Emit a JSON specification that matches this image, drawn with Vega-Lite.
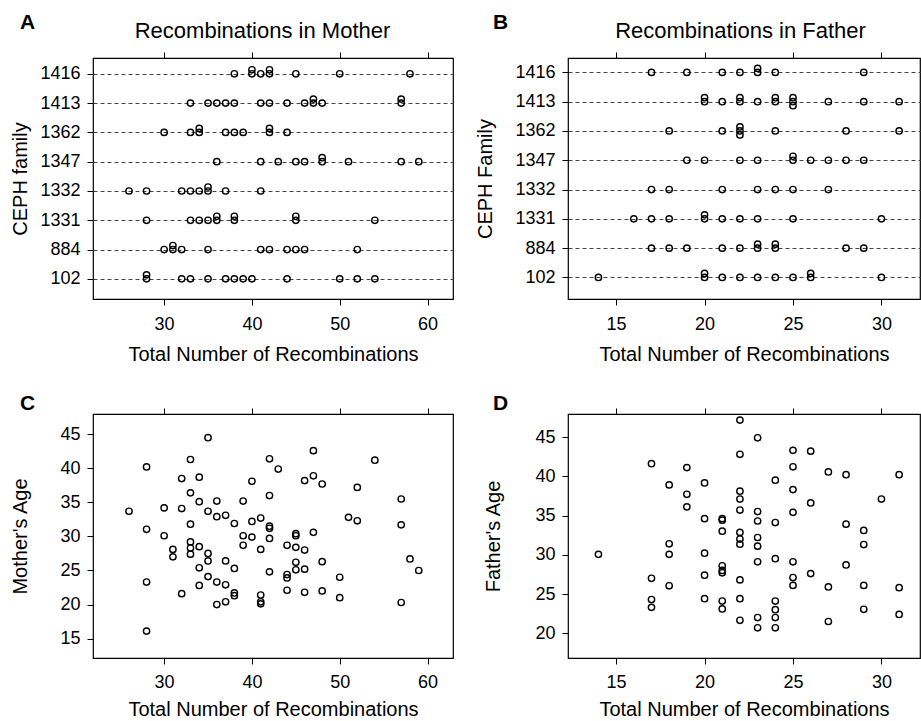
{
  "$schema": "https://vega.github.io/schema/vega-lite/v6.json",
  "background": "white",
  "padding": {"left": 9, "top": 11, "right": 0, "bottom": 0},
  "bounds": "flush",
  "columns": 2,
  "spacing": {"row": 115, "column": 115},
  "config": {
    "font": "Liberation Sans",
    "view": {"stroke": "black", "strokeWidth": 1.2},
    "axis": {"domain": false, "tickColor": "black", "tickSize": 6, "tickWidth": 1, "labelColor": "black", "titleColor": "black", "labelFontSize": 18, "titleFontSize": 20, "titleFontWeight": "normal", "labelFont": "Liberation Sans", "titleFont": "Liberation Sans", "grid": false},
    "title": {"font": "Liberation Sans", "fontSize": 21, "fontWeight": "bold", "color": "black"}
  },
  "datasets": {
    "mother": [
      {"family": "1416", "n": 38}, {"family": "1416", "n": 40}, {"family": "1416", "n": 40}, {"family": "1416", "n": 41}, {"family": "1416", "n": 42}, {"family": "1416", "n": 42}, {"family": "1416", "n": 45}, {"family": "1416", "n": 50}, {"family": "1416", "n": 58},
      {"family": "1413", "n": 33}, {"family": "1413", "n": 35}, {"family": "1413", "n": 36}, {"family": "1413", "n": 37}, {"family": "1413", "n": 38}, {"family": "1413", "n": 41}, {"family": "1413", "n": 42}, {"family": "1413", "n": 44}, {"family": "1413", "n": 46}, {"family": "1413", "n": 47}, {"family": "1413", "n": 47}, {"family": "1413", "n": 48}, {"family": "1413", "n": 57}, {"family": "1413", "n": 57},
      {"family": "1362", "n": 30}, {"family": "1362", "n": 33}, {"family": "1362", "n": 34}, {"family": "1362", "n": 34}, {"family": "1362", "n": 37}, {"family": "1362", "n": 38}, {"family": "1362", "n": 39}, {"family": "1362", "n": 42}, {"family": "1362", "n": 42}, {"family": "1362", "n": 44},
      {"family": "1347", "n": 36}, {"family": "1347", "n": 41}, {"family": "1347", "n": 43}, {"family": "1347", "n": 45}, {"family": "1347", "n": 46}, {"family": "1347", "n": 48}, {"family": "1347", "n": 48}, {"family": "1347", "n": 51}, {"family": "1347", "n": 57}, {"family": "1347", "n": 59},
      {"family": "1332", "n": 26}, {"family": "1332", "n": 28}, {"family": "1332", "n": 32}, {"family": "1332", "n": 33}, {"family": "1332", "n": 34}, {"family": "1332", "n": 35}, {"family": "1332", "n": 35}, {"family": "1332", "n": 37}, {"family": "1332", "n": 41},
      {"family": "1331", "n": 28}, {"family": "1331", "n": 33}, {"family": "1331", "n": 34}, {"family": "1331", "n": 35}, {"family": "1331", "n": 36}, {"family": "1331", "n": 36}, {"family": "1331", "n": 38}, {"family": "1331", "n": 38}, {"family": "1331", "n": 45}, {"family": "1331", "n": 45}, {"family": "1331", "n": 54},
      {"family": "884", "n": 30}, {"family": "884", "n": 31}, {"family": "884", "n": 31}, {"family": "884", "n": 32}, {"family": "884", "n": 35}, {"family": "884", "n": 41}, {"family": "884", "n": 42}, {"family": "884", "n": 44}, {"family": "884", "n": 45}, {"family": "884", "n": 46}, {"family": "884", "n": 52},
      {"family": "102", "n": 28}, {"family": "102", "n": 28}, {"family": "102", "n": 32}, {"family": "102", "n": 33}, {"family": "102", "n": 35}, {"family": "102", "n": 37}, {"family": "102", "n": 38}, {"family": "102", "n": 39}, {"family": "102", "n": 40}, {"family": "102", "n": 44}, {"family": "102", "n": 50}, {"family": "102", "n": 52}, {"family": "102", "n": 54}
    ],
    "father": [
      {"family": "1416", "n": 17}, {"family": "1416", "n": 19}, {"family": "1416", "n": 21}, {"family": "1416", "n": 22}, {"family": "1416", "n": 23}, {"family": "1416", "n": 23}, {"family": "1416", "n": 24}, {"family": "1416", "n": 29},
      {"family": "1413", "n": 20}, {"family": "1413", "n": 20}, {"family": "1413", "n": 21}, {"family": "1413", "n": 22}, {"family": "1413", "n": 22}, {"family": "1413", "n": 23}, {"family": "1413", "n": 24}, {"family": "1413", "n": 24}, {"family": "1413", "n": 25}, {"family": "1413", "n": 25}, {"family": "1413", "n": 25}, {"family": "1413", "n": 27}, {"family": "1413", "n": 29}, {"family": "1413", "n": 31},
      {"family": "1362", "n": 18}, {"family": "1362", "n": 21}, {"family": "1362", "n": 22}, {"family": "1362", "n": 22}, {"family": "1362", "n": 22}, {"family": "1362", "n": 24}, {"family": "1362", "n": 28}, {"family": "1362", "n": 31},
      {"family": "1347", "n": 19}, {"family": "1347", "n": 20}, {"family": "1347", "n": 22}, {"family": "1347", "n": 23}, {"family": "1347", "n": 25}, {"family": "1347", "n": 25}, {"family": "1347", "n": 26}, {"family": "1347", "n": 27}, {"family": "1347", "n": 28}, {"family": "1347", "n": 29},
      {"family": "1332", "n": 17}, {"family": "1332", "n": 18}, {"family": "1332", "n": 21}, {"family": "1332", "n": 23}, {"family": "1332", "n": 24}, {"family": "1332", "n": 25}, {"family": "1332", "n": 27},
      {"family": "1331", "n": 16}, {"family": "1331", "n": 17}, {"family": "1331", "n": 18}, {"family": "1331", "n": 20}, {"family": "1331", "n": 20}, {"family": "1331", "n": 21}, {"family": "1331", "n": 22}, {"family": "1331", "n": 23}, {"family": "1331", "n": 25}, {"family": "1331", "n": 30},
      {"family": "884", "n": 17}, {"family": "884", "n": 18}, {"family": "884", "n": 19}, {"family": "884", "n": 21}, {"family": "884", "n": 22}, {"family": "884", "n": 23}, {"family": "884", "n": 23}, {"family": "884", "n": 24}, {"family": "884", "n": 24}, {"family": "884", "n": 28}, {"family": "884", "n": 29},
      {"family": "102", "n": 14}, {"family": "102", "n": 20}, {"family": "102", "n": 20}, {"family": "102", "n": 21}, {"family": "102", "n": 22}, {"family": "102", "n": 23}, {"family": "102", "n": 24}, {"family": "102", "n": 25}, {"family": "102", "n": 26}, {"family": "102", "n": 26}, {"family": "102", "n": 30}
    ],
    "motherAge": [
      {"n": 35, "age": 44.5}, {"n": 47, "age": 42.6}, {"n": 28, "age": 40.2}, {"n": 33, "age": 41.3}, {"n": 42, "age": 41.4}, {"n": 54, "age": 41.2}, {"n": 43, "age": 39.9}, {"n": 32, "age": 38.5}, {"n": 34, "age": 38.7}, {"n": 40, "age": 38.1}, {"n": 46, "age": 38.2}, {"n": 47, "age": 38.9}, {"n": 48, "age": 37.7}, {"n": 52, "age": 37.2}, {"n": 33, "age": 36.4}, {"n": 42, "age": 36.0}, {"n": 57, "age": 35.5}, {"n": 34, "age": 35.1}, {"n": 36, "age": 35.2}, {"n": 39, "age": 35.2}, {"n": 26, "age": 33.7}, {"n": 30, "age": 34.2}, {"n": 32, "age": 34.1}, {"n": 35, "age": 33.7}, {"n": 36, "age": 32.9}, {"n": 37, "age": 33.1}, {"n": 38, "age": 31.9}, {"n": 40, "age": 32.2}, {"n": 41, "age": 32.7}, {"n": 42, "age": 31.5}, {"n": 42, "age": 31.2}, {"n": 51, "age": 32.8}, {"n": 52, "age": 32.3}, {"n": 57, "age": 31.7}, {"n": 28, "age": 31.05}, {"n": 33, "age": 31.8}, {"n": 30, "age": 30.1}, {"n": 39, "age": 30.1}, {"n": 40, "age": 29.9}, {"n": 42, "age": 29.7}, {"n": 45, "age": 30.4}, {"n": 45, "age": 30.1}, {"n": 47, "age": 30.6},
      {"n": 31, "age": 28.1}, {"n": 31, "age": 27.0}, {"n": 33, "age": 29.2}, {"n": 33, "age": 28.3}, {"n": 33, "age": 27.4}, {"n": 34, "age": 28.5}, {"n": 35, "age": 27.5}, {"n": 35, "age": 26.4}, {"n": 37, "age": 26.4}, {"n": 34, "age": 25.4}, {"n": 38, "age": 25.3}, {"n": 39, "age": 28.7}, {"n": 41, "age": 28.1}, {"n": 44, "age": 28.7}, {"n": 45, "age": 28.4}, {"n": 46, "age": 28.0}, {"n": 45, "age": 26.2}, {"n": 45, "age": 25.1}, {"n": 46, "age": 25.2}, {"n": 48, "age": 26.3}, {"n": 58, "age": 26.7}, {"n": 59, "age": 25.0}, {"n": 28, "age": 23.3}, {"n": 32, "age": 21.6}, {"n": 34, "age": 22.8}, {"n": 35, "age": 24.1}, {"n": 36, "age": 23.3}, {"n": 37, "age": 22.9}, {"n": 38, "age": 21.7}, {"n": 38, "age": 21.3}, {"n": 42, "age": 24.8}, {"n": 44, "age": 24.4}, {"n": 44, "age": 23.9}, {"n": 44, "age": 22.1}, {"n": 46, "age": 21.8}, {"n": 48, "age": 22.0}, {"n": 50, "age": 24.0}, {"n": 50, "age": 21.0}, {"n": 41, "age": 21.4}, {"n": 41, "age": 20.4}, {"n": 41, "age": 20.1}, {"n": 36, "age": 20.0}, {"n": 37, "age": 20.4}, {"n": 57, "age": 20.3}, {"n": 28, "age": 16.1}
    ],
    "fatherAge": [
      {"n": 22, "age": 47.15}, {"n": 23, "age": 44.9}, {"n": 22, "age": 42.8}, {"n": 25, "age": 43.3}, {"n": 26, "age": 43.2}, {"n": 17, "age": 41.6}, {"n": 19, "age": 41.1}, {"n": 25, "age": 41.2}, {"n": 27, "age": 40.55}, {"n": 28, "age": 40.2}, {"n": 31, "age": 40.2}, {"n": 18, "age": 38.9}, {"n": 20, "age": 39.15}, {"n": 24, "age": 39.5}, {"n": 19, "age": 37.7}, {"n": 22, "age": 38.1}, {"n": 25, "age": 38.3}, {"n": 22, "age": 37.1}, {"n": 30, "age": 37.1}, {"n": 26, "age": 36.6}, {"n": 19, "age": 36.1}, {"n": 22, "age": 35.7}, {"n": 23, "age": 35.5}, {"n": 25, "age": 35.4}, {"n": 20, "age": 34.6}, {"n": 21, "age": 34.6}, {"n": 21, "age": 34.4}, {"n": 23, "age": 34.3}, {"n": 24, "age": 34.1}, {"n": 28, "age": 33.9}, {"n": 21, "age": 33.0}, {"n": 22, "age": 32.85}, {"n": 29, "age": 33.1}, {"n": 22, "age": 32.0}, {"n": 23, "age": 32.2}, {"n": 18, "age": 31.4}, {"n": 22, "age": 31.35}, {"n": 23, "age": 31.1}, {"n": 29, "age": 31.3},
      {"n": 14, "age": 30.05}, {"n": 18, "age": 30.05}, {"n": 20, "age": 30.2}, {"n": 23, "age": 29.1}, {"n": 24, "age": 29.5}, {"n": 25, "age": 29.1}, {"n": 21, "age": 28.6}, {"n": 21, "age": 28.0}, {"n": 21, "age": 27.7}, {"n": 28, "age": 28.7}, {"n": 26, "age": 27.6}, {"n": 17, "age": 27.0}, {"n": 20, "age": 27.4}, {"n": 22, "age": 26.8}, {"n": 25, "age": 27.1}, {"n": 25, "age": 26.1}, {"n": 18, "age": 26.05}, {"n": 27, "age": 25.9}, {"n": 29, "age": 26.1}, {"n": 31, "age": 25.8}, {"n": 17, "age": 24.3}, {"n": 17, "age": 23.3}, {"n": 20, "age": 24.4}, {"n": 21, "age": 24.1}, {"n": 21, "age": 23.1}, {"n": 22, "age": 24.4}, {"n": 24, "age": 24.1}, {"n": 24, "age": 23.0}, {"n": 24, "age": 22.0}, {"n": 24, "age": 20.7}, {"n": 23, "age": 22.0}, {"n": 23, "age": 20.7}, {"n": 22, "age": 21.65}, {"n": 27, "age": 21.5}, {"n": 29, "age": 23.05}, {"n": 31, "age": 22.4}
    ]
  },
  "concat": [
    {
      "width": 360, "height": 241,
      "title": {"text": "A", "anchor": "start", "frame": "group", "dx": -73, "dy": 35, "baseline": "alphabetic"},
      "data": {"name": "mother"},
      "transform": [{"window": [{"op": "row_number", "as": "k"}], "groupby": ["family", "n"]}],
      "layer": [
        {
          "mark": {"type": "point", "shape": "circle", "filled": false, "stroke": "black", "strokeWidth": 1.4, "size": 40, "opacity": 1},
          "encoding": {
            "x": {"field": "n", "type": "quantitative", "scale": {"domain": [21.9, 62.9], "nice": false, "zero": false}, "axis": {"values": [30, 40, 50, 60], "title": "Total Number of Recombinations", "labelPadding": 10, "titlePadding": 11}},
            "y": {"field": "family", "type": "nominal", "scale": {"type": "point", "domain": ["1416", "1413", "1362", "1347", "1332", "1331", "884", "102"], "padding": 0.614, "align": 0.44}, "axis": {"title": "CEPH family", "grid": true, "gridDash": [4, 3], "gridColor": "#444", "gridWidth": 1, "labelPadding": 7, "titleX": -67, "titleBaseline": "alphabetic"}},
            "yOffset": {"field": "k", "type": "nominal", "scale": {"type": "point", "domain": [2, 1, 3], "range": [-4, 4], "padding": 0}, "legend": null}
          }
        },
        {
          "mark": {"type": "point", "opacity": 0},
          "encoding": {
            "x": {"field": "n", "type": "quantitative", "axis": {"orient": "top", "values": [30, 40, 50, 60], "labels": false, "title": "Recombinations in Mother", "titleFontSize": 22, "titleX": 169, "titleY": -21, "titleAlign": "center", "titleBaseline": "alphabetic"}}
          }
        }
      ],
      "resolve": {"axis": {"x": "independent"}}
    },
    {
      "width": 352, "height": 241,
      "title": {"text": "B", "anchor": "start", "frame": "group", "dx": -75, "dy": 35, "baseline": "alphabetic"},
      "data": {"name": "father"},
      "transform": [{"window": [{"op": "row_number", "as": "k"}], "groupby": ["family", "n"]}],
      "layer": [
        {
          "mark": {"type": "point", "shape": "circle", "filled": false, "stroke": "black", "strokeWidth": 1.4, "size": 40, "opacity": 1},
          "encoding": {
            "x": {"field": "n", "type": "quantitative", "scale": {"domain": [12.28, 32.18], "nice": false, "zero": false}, "axis": {"values": [15, 20, 25, 30], "title": "Total Number of Recombinations", "labelPadding": 10, "titlePadding": 11}},
            "y": {"field": "family", "type": "nominal", "scale": {"type": "point", "domain": ["1416", "1413", "1362", "1347", "1332", "1331", "884", "102"], "padding": 0.614, "align": 0.40}, "axis": {"title": "CEPH Family", "grid": true, "gridDash": [4, 3], "gridColor": "#444", "gridWidth": 1, "labelPadding": 7, "titleX": -77, "titleBaseline": "alphabetic"}},
            "yOffset": {"field": "k", "type": "nominal", "scale": {"type": "point", "domain": [2, 1, 3], "range": [-4, 4], "padding": 0}, "legend": null}
          }
        },
        {
          "mark": {"type": "point", "opacity": 0},
          "encoding": {
            "x": {"field": "n", "type": "quantitative", "axis": {"orient": "top", "values": [15, 20, 25, 30], "labels": false, "title": "Recombinations in Father", "titleFontSize": 22, "titleX": 172, "titleY": -21, "titleAlign": "center", "titleBaseline": "alphabetic"}}
          }
        }
      ],
      "resolve": {"axis": {"x": "independent"}}
    },
    {
      "width": 360, "height": 244,
      "title": {"text": "C", "anchor": "start", "frame": "group", "dx": -73, "dy": 27, "baseline": "alphabetic"},
      "data": {"name": "motherAge"},
      "layer": [
        {
          "mark": {"type": "point", "shape": "circle", "filled": false, "stroke": "black", "strokeWidth": 1.4, "size": 40, "opacity": 1},
          "encoding": {
            "x": {"field": "n", "type": "quantitative", "scale": {"domain": [21.9, 62.9], "nice": false, "zero": false}, "axis": {"values": [30, 40, 50, 60], "title": "Total Number of Recombinations", "labelPadding": 9, "titlePadding": 8}},
            "y": {"field": "age", "type": "quantitative", "scale": {"domain": [12.15, 47.98], "nice": false, "zero": false}, "axis": {"values": [15, 20, 25, 30, 35, 40, 45], "title": "Mother's Age", "labelPadding": 7, "titleX": -67, "titleBaseline": "alphabetic"}}
          }
        },
        {
          "mark": {"type": "point", "opacity": 0},
          "encoding": {
            "x": {"field": "n", "type": "quantitative", "axis": {"orient": "top", "values": [30, 40, 50, 60], "labels": false, "title": null}}
          }
        }
      ],
      "resolve": {"axis": {"x": "independent"}}
    },
    {
      "width": 352, "height": 244,
      "title": {"text": "D", "anchor": "start", "frame": "group", "dx": -75, "dy": 27, "baseline": "alphabetic"},
      "data": {"name": "fatherAge"},
      "layer": [
        {
          "mark": {"type": "point", "shape": "circle", "filled": false, "stroke": "black", "strokeWidth": 1.4, "size": 40, "opacity": 1},
          "encoding": {
            "x": {"field": "n", "type": "quantitative", "scale": {"domain": [12.28, 32.18], "nice": false, "zero": false}, "axis": {"values": [15, 20, 25, 30], "title": "Total Number of Recombinations", "labelPadding": 9, "titlePadding": 8}},
            "y": {"field": "age", "type": "quantitative", "scale": {"domain": [16.85, 47.93], "nice": false, "zero": false}, "axis": {"values": [20, 25, 30, 35, 40, 45], "title": "Father's Age", "labelPadding": 7, "titleX": -69, "titleBaseline": "alphabetic"}}
          }
        },
        {
          "mark": {"type": "point", "opacity": 0},
          "encoding": {
            "x": {"field": "n", "type": "quantitative", "axis": {"orient": "top", "values": [15, 20, 25, 30], "labels": false, "title": null}}
          }
        }
      ],
      "resolve": {"axis": {"x": "independent"}}
    }
  ]
}
